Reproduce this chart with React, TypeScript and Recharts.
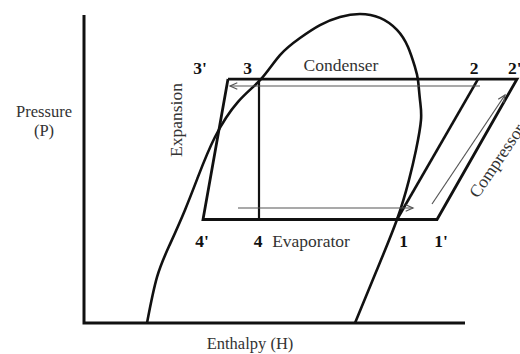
import React from "react";
import { LineChart, Line, XAxis, YAxis, ReferenceDot } from "recharts";

// Saturation dome (enthalpy H, pressure P) in arbitrary schematic units
const domeH = [15.75, 18.25, 21.5, 25.25, 28.5, 32.75, 38.5, 44.25, 49, 54, 59, 64, 69, 74, 78.25, 81, 82.75, 83.5, 84, 84.25, 83, 81.25, 78.25, 73, 67.75];
const domeP = [0, 15.3, 26.3, 37.7, 48.7, 62, 73.7, 81.3, 89.3, 95, 99.3, 102, 103, 101.7, 97.7, 92, 85.3, 81, 74.3, 67.7, 57.7, 47.7, 34.5, 17, 0];

// Axes (drawn as an L)
const axisH = [0, 0, 95.25];
const axisP = [102.7, 0, 0];

// Real cycle: 3' -> 2' -> 1' -> 4' -> 3'
const cycleH = [36, 108.25, 88.25, 29.75, 36];
const cycleP = [81.3, 81.3, 34.5, 34.5, 81.3];

// Ideal cycle lines: 3 -> 4 and 2 -> 1
const line34H = [43.75, 43.75];
const line34P = [81.3, 34.5];
const line21H = [98.5, 78.25];
const line21P = [81.3, 34.5];

// Flow arrows (thin)
const arrowTopH = [99, 36.5];
const arrowTopP = [79, 79];
const arrowBottomH = [38.5, 82.25];
const arrowBottomP = [38.33, 38.33];
const arrowDiagH = [87, 105.25];
const arrowDiagP = [39.67, 76];

const zip = (h: number[], p: number[]) => h.map((H, i) => ({ H, P: p[i] }));

// Annotations (text, anchor in data units)
const annotations = [
  { text: "Pressure", H: -10, P: 68.67, kind: "axis", anchor: "middle", angle: 0 },
  { text: "(P)", H: -10, P: 62.33, kind: "axis", anchor: "middle", angle: 0 },
  { text: "Enthalpy (H)", H: 41.5, P: -8.83, kind: "axis", anchor: "middle", angle: 0 },
  { text: "Condenser", H: 64.25, P: 84, kind: "name", anchor: "middle", angle: 0 },
  { text: "Evaporator", H: 56.75, P: 25.33, kind: "name", anchor: "middle", angle: 0 },
  { text: "Expansion", H: 24.5, P: 67.67, kind: "name", anchor: "middle", angle: -90 },
  { text: "Compressor", H: 98.5, P: 41.33, kind: "name", anchor: "start", angle: -56 },
  { text: "3'", H: 29, P: 83, kind: "point", anchor: "middle", angle: 0 },
  { text: "3", H: 40.9, P: 83, kind: "point", anchor: "middle", angle: 0 },
  { text: "2", H: 97.5, P: 83, kind: "point", anchor: "middle", angle: 0 },
  { text: "2'", H: 106, P: 83, kind: "point", anchor: "start", angle: 0 },
  { text: "4'", H: 29.5, P: 25.33, kind: "point", anchor: "middle", angle: 0 },
  { text: "4", H: 43.5, P: 25.33, kind: "point", anchor: "middle", angle: 0 },
  { text: "1", H: 79.9, P: 25.33, kind: "point", anchor: "middle", angle: 0 },
  { text: "1'", H: 89.25, P: 25.33, kind: "point", anchor: "middle", angle: 0 },
];

const makeArrowDot = () => {
  let prev: { x: number; y: number } | null = null;
  return (props: any) => {
    const { cx, cy, index, points } = props;
    const total = points ? points.length : 2;
    if (index === 0) {
      prev = { x: cx, y: cy };
    }
    if (index !== total - 1) return <g key={`a-${index}`} />;
    const p = points && points.length > 1 ? points[index - 1] : prev;
    if (!p) return <g key={`a-${index}`} />;
    const ang = Math.atan2(cy - p.y, cx - p.x);
    const len = 8;
    const spread = 0.42;
    const x1 = cx - len * Math.cos(ang - spread);
    const y1 = cy - len * Math.sin(ang - spread);
    const x2 = cx - len * Math.cos(ang + spread);
    const y2 = cy - len * Math.sin(ang + spread);
    return (
      <path
        key={`a-${index}`}
        d={`M${x1},${y1}L${cx},${cy}L${x2},${y2}`}
        stroke="#555"
        strokeWidth={1.2}
        fill="none"
      />
    );
  };
};

const FONT = '"Liberation Serif", "Times New Roman", serif';

export default function App() {
  return (
    <div style={{ position: "absolute", left: 0, top: 0, width: 520, height: 354, background: "#fff" }}>
      <LineChart width={520} height={354} margin={{ top: 0, right: 0, bottom: 0, left: 0 }}>
        <XAxis type="number" dataKey="H" domain={[-21, 109]} allowDataOverflow hide />
        <YAxis type="number" dataKey="P" domain={[-10.333, 107.667]} allowDataOverflow hide />
        <Line data={zip(axisH, axisP)} dataKey="P" type="linear" stroke="#111" strokeWidth={3} dot={false} activeDot={false} isAnimationActive={false} />
        <Line data={zip(domeH, domeP)} dataKey="P" type="natural" stroke="#111" strokeWidth={2.6} dot={false} activeDot={false} isAnimationActive={false} />
        <Line data={zip(cycleH, cycleP)} dataKey="P" type="linear" stroke="#111" strokeWidth={2.8} dot={false} activeDot={false} isAnimationActive={false} />
        <Line data={zip(line34H, line34P)} dataKey="P" type="linear" stroke="#111" strokeWidth={2.2} dot={false} activeDot={false} isAnimationActive={false} />
        <Line data={zip(line21H, line21P)} dataKey="P" type="linear" stroke="#111" strokeWidth={2.6} dot={false} activeDot={false} isAnimationActive={false} />
        <Line data={zip(arrowTopH, arrowTopP)} dataKey="P" type="linear" stroke="#555" strokeWidth={1.2} dot={makeArrowDot()} activeDot={false} isAnimationActive={false} />
        <Line data={zip(arrowBottomH, arrowBottomP)} dataKey="P" type="linear" stroke="#555" strokeWidth={1.2} dot={makeArrowDot()} activeDot={false} isAnimationActive={false} />
        <Line data={zip(arrowDiagH, arrowDiagP)} dataKey="P" type="linear" stroke="#555" strokeWidth={1.2} dot={makeArrowDot()} activeDot={false} isAnimationActive={false} />
        {annotations.map((a) => (
          <ReferenceDot
            key={a.text}
            x={a.H}
            y={a.P}
            r={0}
            ifOverflow="visible"
            shape={(p: any) => (
              <text
                x={p.cx}
                y={p.cy}
                textAnchor={a.anchor as any}
                transform={a.angle ? `rotate(${a.angle} ${p.cx} ${p.cy})` : undefined}
                fontFamily={FONT}
                fontSize={a.kind === "axis" ? 16.5 : 17.5}
                fontWeight={a.kind === "point" ? 700 : 400}
                fill={a.kind === "point" ? "#111" : "#333"}
              >
                {a.text}
              </text>
            )}
          />
        ))}
      </LineChart>
    </div>
  );
}
